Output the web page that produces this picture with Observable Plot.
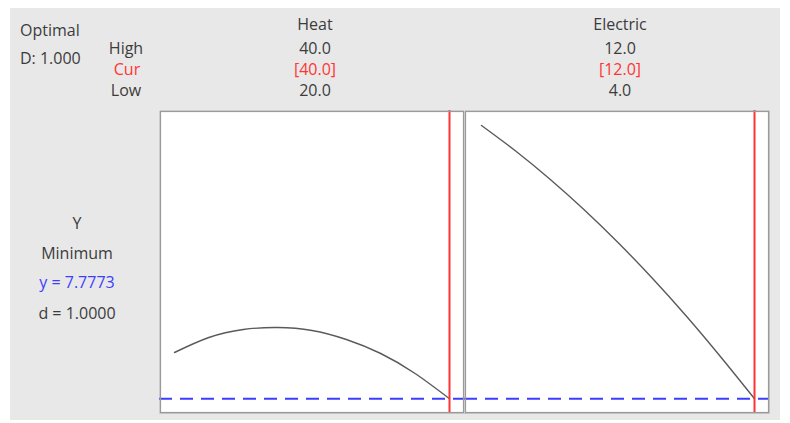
<!DOCTYPE html>
<html>
<head>
<meta charset="utf-8">
<script src="https://cdn.jsdelivr.net/npm/d3@7"></script>
<script src="https://cdn.jsdelivr.net/npm/@observablehq/plot@0.6"></script>
<style>
  html, body { margin: 0; padding: 0; background: white; }
  #wrap { position: relative; width: 790px; height: 423px; overflow: hidden; background: white; }
  #bg { position: absolute; left: 10px; top: 8px; width: 770px; height: 412px; background: #e8e8e8; }
  .panel { position: absolute; top: 110px; }
  #labels { position: absolute; left: 0; top: 0; }
  #labels text { font-family: "Open Sans", sans-serif; font-size: 16px; fill: #3c3c3c; }
</style>
</head>
<body>
<div id="wrap">
  <div id="bg"></div>
  <div id="p1" class="panel" style="left:159px"></div>
  <div id="p2" class="panel" style="left:464px"></div>
  <svg id="labels" width="790" height="423"></svg>
</div>
<script>
// ---- data ----
const factors = ["Heat", "Electric"];
const highs = [40.0, 12.0];
const currents = [40.0, 12.0];
const lows = [20.0, 4.0];

const heatX = [20, 22.5, 25, 27.5, 30, 32.5, 35, 37.5, 40];
const heatY = [12.4, 13.9, 14.7, 14.9, 14.6, 13.7, 12.3, 10.3, 7.7773];

const electricX = [4, 5, 6, 7, 8, 9, 10, 11, 12];
const electricY = [35.1, 32.55, 29.75, 26.7, 23.4, 19.85, 16.05, 12.0, 7.7773];

const responseName = "Y";
const goal = "Minimum";
const yOptimal = 7.7773;
const dDesir = 1.0;
const DComposite = 1.0;

const yDomain = [6.3, 36.6];

function panel(xs, ys, lo, hi, cur, insetLeft) {
  const data = xs.map((x, i) => ({x, y: ys[i]}));
  return Plot.plot({
    width: 305,
    height: 303,
    margin: 0,
    x: {domain: [lo, hi], insetLeft, insetRight: 15, axis: null},
    y: {domain: yDomain, axis: null},
    style: {background: "white", overflow: "visible"},
    marks: [
      Plot.line(data, {x: "x", y: "y", curve: "natural", stroke: "#5a5a5a", strokeWidth: 1.4}),
      Plot.ruleY([yOptimal], {stroke: "#3d3dff", strokeWidth: 2, strokeDasharray: "13,8"}),
      Plot.ruleX([cur], {stroke: "#ff3535", strokeWidth: 2}),
      Plot.frame({stroke: "#9a9a9a", strokeWidth: 1.6, inset: 0.8})
    ]
  });
}

document.getElementById("p1").appendChild(panel(heatX, heatY, lows[0], highs[0], currents[0], 15));
document.getElementById("p2").appendChild(panel(electricX, electricY, lows[1], highs[1], currents[1], 17));

// ---- text labels ----
const svg = d3.select("#labels");
function t(str, x, y, anchor, color) {
  const el = svg.append("text").attr("x", x).attr("y", y).attr("text-anchor", anchor).text(str);
  if (color) el.style("fill", color);
}
const red = "#ff3535", blue = "#3d3dff";
t("Optimal", 20, 36, "start");
t("D: " + DComposite.toFixed(3), 20, 64, "start");
t("High", 126, 54, "middle");
t("Cur", 127, 75, "middle", red);
t("Low", 126, 96, "middle");
const cx = [315, 620];
factors.forEach((f, i) => {
  t(f, cx[i], 30, "middle");
  t(highs[i].toFixed(1), cx[i], 54, "middle");
  t("[" + currents[i].toFixed(1) + "]", cx[i], 75, "middle", red);
  t(lows[i].toFixed(1), cx[i], 96, "middle");
});
t(responseName, 77, 229, "middle");
t(goal, 77, 259, "middle");
t("y = " + yOptimal.toFixed(4), 77, 288, "middle", blue);
t("d = " + dDesir.toFixed(4), 77, 319, "middle");
</script>
</body>
</html>
